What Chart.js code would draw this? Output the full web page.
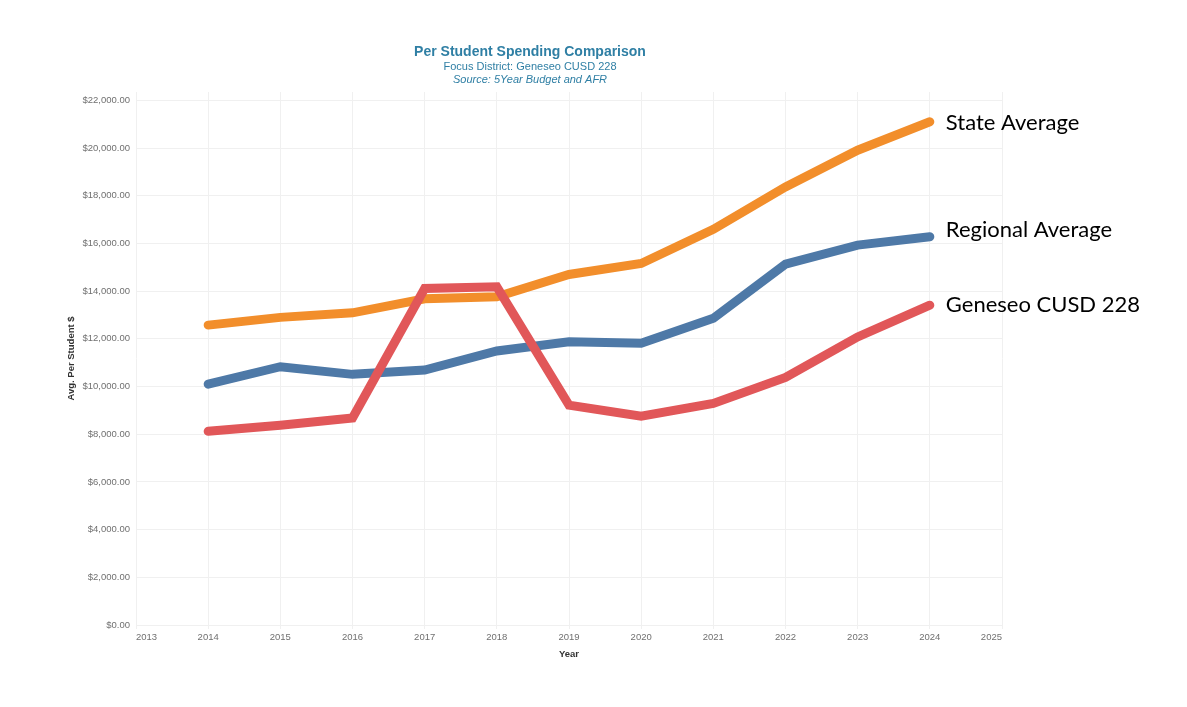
<!DOCTYPE html>
<html>
<head>
<meta charset="utf-8">
<script src="https://cdn.jsdelivr.net/npm/chart.js@4/dist/chart.umd.min.js"></script>
<style>
  html, body { margin: 0; padding: 0; background: #ffffff; }
  #wrap { position: relative; width: 1187px; height: 707px; }
  canvas { display: block; }
</style>
</head>
<body>
<div id="wrap"><canvas id="c" width="1187" height="707"></canvas></div>
<script>
// ---- Data ----
const years = [2014, 2015, 2016, 2017, 2018, 2019, 2020, 2021, 2022, 2023, 2024];
const seriesNames = ["State Average", "Regional Average", "Geneseo CUSD 228"];
const stateAverage    = [12575, 12900, 13090, 13680, 13760, 14700, 15160, 16590, 18370, 19910, 21100];
const regionalAverage = [10100, 10830, 10510, 10690, 11490, 11880, 11810, 12860, 15130, 15930, 16280];
const geneseo         = [ 8120,  8380,  8680, 14110, 14180,  9220,  8760,  9290, 10380, 12080, 13410];
const yTickValues = [0, 2000, 4000, 6000, 8000, 10000, 12000, 14000, 16000, 18000, 20000, 22000];
const xTickValues = [2013, 2014, 2015, 2016, 2017, 2018, 2019, 2020, 2021, 2022, 2023, 2024, 2025];
const titleText = "Per Student Spending Comparison";
const subtitleText = "Focus District: Geneseo CUSD 228";
const sourceText = "Source: 5Year Budget and AFR";
const xTitle = "Year";
const yTitle = "Avg. Per Student $";
const xMin = 2013, xMax = 2025;
const yMin = 0, yMax = 22350;

// ---- Styles ----
const colors = ["#F28E2B", "#4E79A7", "#E15759"];
const labelDy = [8, 0, 7];
const gridColor = "#f0f0f0";
const titleColor = "#2f7fa4";

const toPts = arr => arr.map((v, i) => ({ x: years[i], y: v }));
const seriesValues = [stateAverage, regionalAverage, geneseo];

const datasets = seriesValues.map((vals, i) => ({
  label: seriesNames[i],
  data: toPts(vals),
  borderColor: colors[i],
  backgroundColor: colors[i],
  borderWidth: 9,
  borderCapStyle: 'round',
  pointRadius: 0,
  pointHoverRadius: 0,
  tension: 0,
  fill: false,
  order: 3 - i
}));

const endLabels = {
  id: 'endLabels',
  afterDatasetsDraw(chart) {
    const ctx = chart.ctx;
    ctx.save();
    ctx.font = '22px Lato';
    ctx.fillStyle = '#000000';
    ctx.textAlign = 'left';
    ctx.textBaseline = 'alphabetic';
    chart.data.datasets.forEach((ds, i) => {
      const meta = chart.getDatasetMeta(i);
      const p = meta.data[meta.data.length - 1];
      ctx.fillText(ds.label, p.x + 16, p.y + labelDy[i]);
    });
    ctx.restore();
  }
};

const titles = {
  id: 'titles',
  afterDraw(chart) {
    const ctx = chart.ctx;
    ctx.save();
    ctx.textAlign = 'center';
    ctx.textBaseline = 'alphabetic';
    ctx.fillStyle = titleColor;
    ctx.font = 'bold 14px "Liberation Sans", Arial, sans-serif';
    ctx.fillText(titleText, 530, 56);
    ctx.font = '11px "Liberation Sans", Arial, sans-serif';
    ctx.fillText(subtitleText, 530, 70);
    ctx.font = 'italic 11px "Liberation Sans", Arial, sans-serif';
    ctx.fillText(sourceText, 530, 83);
    ctx.restore();
  }
};

const whiteBg = {
  id: 'whiteBg',
  beforeDraw(chart) {
    const ctx = chart.ctx;
    ctx.save();
    ctx.fillStyle = '#ffffff';
    ctx.fillRect(0, 0, chart.width, chart.height);
    ctx.restore();
  }
};

new Chart(document.getElementById('c'), {
  type: 'line',
  data: { datasets },
  options: {
    responsive: false,
    animation: false,
    layout: { padding: { left: 62, top: 92, right: 185, bottom: 43 } },
    plugins: {
      legend: { display: false },
      tooltip: { enabled: false },
      title: { display: false }
    },
    scales: {
      x: {
        type: 'linear',
        min: xMin,
        max: xMax,
        afterFit(scale) { scale.height = 39; },
        afterBuildTicks(scale) {
          scale.ticks = xTickValues.map(v => ({ value: v }));
        },
        ticks: {
          autoSkip: false,
          maxRotation: 0,
          align: 'inner',
          padding: 3,
          color: '#707070',
          font: { family: '"Liberation Sans", Arial, sans-serif', size: 9.5 },
          callback: v => String(v)
        },
        grid: { color: gridColor, tickLength: 4, tickColor: gridColor },
        border: { display: false },
        title: {
          display: true,
          text: xTitle,
          color: '#333333',
          font: { family: '"Liberation Sans", Arial, sans-serif', size: 9.5, weight: 'bold' },
          padding: { top: 4, bottom: 4 }
        }
      },
      y: {
        type: 'linear',
        min: yMin,
        max: yMax,
        afterFit(scale) { scale.width = 74; },
        afterBuildTicks(scale) {
          scale.ticks = yTickValues.map(v => ({ value: v }));
        },
        ticks: {
          autoSkip: false,
          padding: 6,
          color: '#707070',
          font: { family: '"Liberation Sans", Arial, sans-serif', size: 9.5 },
          callback: v => '$' + Number(v).toLocaleString('en-US', { minimumFractionDigits: 2, maximumFractionDigits: 2 })
        },
        grid: { color: gridColor, drawTicks: false },
        border: { display: false },
        title: {
          display: true,
          text: yTitle,
          color: '#333333',
          font: { family: '"Liberation Sans", Arial, sans-serif', size: 9.5, weight: 'bold' },
          padding: { top: 4, bottom: 4 }
        }
      }
    }
  },
  plugins: [whiteBg, endLabels, titles]
});
</script>
</body>
</html>
